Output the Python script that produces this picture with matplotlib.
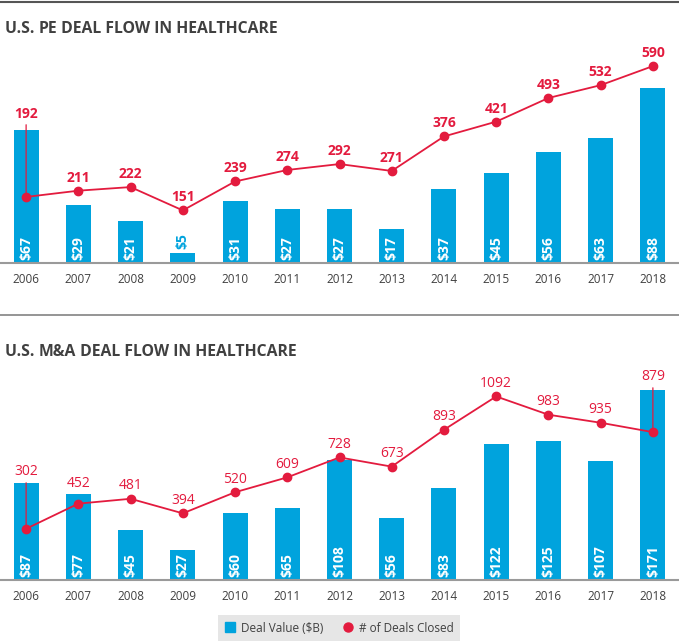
import matplotlib
matplotlib.use('Agg')
import matplotlib.pyplot as plt
from matplotlib.lines import Line2D
import numpy as np

plt.rcParams['font.family'] = ['Open Sans', 'DejaVu Sans']

years = ['2006', '2007', '2008', '2009', '2010', '2011', '2012',
         '2013', '2014', '2015', '2016', '2017', '2018']
pe_value = [67, 29, 21, 5, 31, 27, 27, 17, 37, 45, 56, 63, 88]
pe_deals = [192, 211, 222, 151, 239, 274, 292, 271, 376, 421, 493, 532, 590]
ma_value = [87, 77, 45, 27, 60, 65, 108, 56, 83, 122, 125, 107, 171]
ma_deals = [302, 452, 481, 394, 520, 609, 728, 673, 893, 1092, 983, 935, 879]

BLUE = '#00a3dd'
RED = '#e31b3e'
DARK = '#404040'

W, H = 679, 642
fig = plt.figure(figsize=(W / 100, H / 100), dpi=100)
fig.patch.set_facecolor('white')


def px(y):
    # pixel from top -> figure fraction
    return 1 - y / H


def draw_title(y, parts):
    r = fig.canvas.get_renderer()
    x = 5 / W
    for txt, wt in parts:
        t = fig.text(x, px(y), txt, fontsize=11.3, fontweight=wt,
                     color=DARK, va='center', ha='left')
        bb = t.get_window_extent(r)
        x = bb.x1 / W


def draw_panel(base_y, top_y, values, deals, bar_lim, line_lim, weight, offsets):
    ax = fig.add_axes([0, px(base_y), 1, (base_y - top_y) / H])
    x = np.arange(len(years))
    ax.bar(x, values, width=0.48, color=BLUE, zorder=2)
    ax.set_xlim(-0.5, len(years) - 0.5)
    ax.set_ylim(0, bar_lim)
    for s in ['top', 'left', 'right']:
        ax.spines[s].set_visible(False)
    ax.spines['bottom'].set_color('#9a9a9a')
    ax.spines['bottom'].set_linewidth(1.5)
    ax.set_yticks([])
    ax.set_xticks(x)
    ax.set_xticklabels(years, fontsize=8.5, color=DARK)
    ax.tick_params(axis='x', length=0, pad=7.5)
    for i, v in enumerate(values):
        if v < 0.1 * bar_lim:
            ax.annotate('$%d' % v, (i, v), xytext=(0, 3), textcoords='offset points',
                        rotation=90, ha='center', va='bottom', color=BLUE,
                        fontsize=10, fontweight='bold')
        else:
            ax.annotate('$%d' % v, (i, 0), xytext=(0, 2), textcoords='offset points',
                        rotation=90, ha='center', va='bottom', color='white',
                        fontsize=10, fontweight='bold')

    ax2 = ax.twinx()
    ax2.set_ylim(*line_lim)
    ax2.axis('off')
    ax2.plot(x, deals, color=RED, lw=1.3, marker='o', markersize=6, zorder=3,
             clip_on=False)
    for i, d in enumerate(deals):
        off = offsets.get(i, 9.4)
        if off > 20:
            ax2.annotate(str(d), (i, d), xytext=(0, off), textcoords='offset points',
                         ha='center', va='center', color=RED, fontsize=10,
                         fontweight=weight,
                         arrowprops=dict(arrowstyle='-', color=RED, lw=0.9,
                                         shrinkA=1, shrinkB=0))
        else:
            ax2.annotate(str(d), (i, d), xytext=(0, off), textcoords='offset points',
                         ha='center', va='center', color=RED, fontsize=10,
                         fontweight=weight)
    return ax


# separators
fig.add_artist(Line2D([0, 1], [px(1.5), px(1.5)], transform=fig.transFigure,
                      color='#555555', lw=1.5))
fig.add_artist(Line2D([0, 1], [px(315), px(315)], transform=fig.transFigure,
                      color='#8c8c8c', lw=1.3))

draw_title(29, [('U.S. ', 'bold'), ('PE', 'bold'),
                (' DEAL FLOW IN HEALTHCARE', 'bold')])
draw_title(352.5, [('U.S. ', 'bold'), ('M&A', 'bold'),
                   (' DEAL FLOW IN HEALTHCARE', 'bold')])

draw_panel(263, 50, pe_value, pe_deals, 107, (-9, 639), 'bold', {0: 60})
draw_panel(580, 370, ma_value, ma_deals, 189, (-4, 1250), 'normal',
           {0: 41.5, 1: 14.4, 12: 40.3})

handles = [Line2D([], [], ls='none', marker='s', markersize=6.5, color=BLUE),
           Line2D([], [], ls='none', marker='o', markersize=6.5, color=RED)]
leg = fig.legend(handles, ['Deal Value ($B)', '# of Deals Closed'], ncol=2,
                 loc='center', bbox_to_anchor=(339 / W, px(628)),
                 frameon=True, fancybox=False, fontsize=8.5, handlelength=1,
                 handletextpad=0.4, columnspacing=1.6, borderpad=0.55,
                 labelcolor=DARK)
leg.get_frame().set_facecolor('#e6e6e6')
leg.get_frame().set_edgecolor('none')
leg.get_frame().set_alpha(1)

fig.savefig('out.png', dpi=100)
